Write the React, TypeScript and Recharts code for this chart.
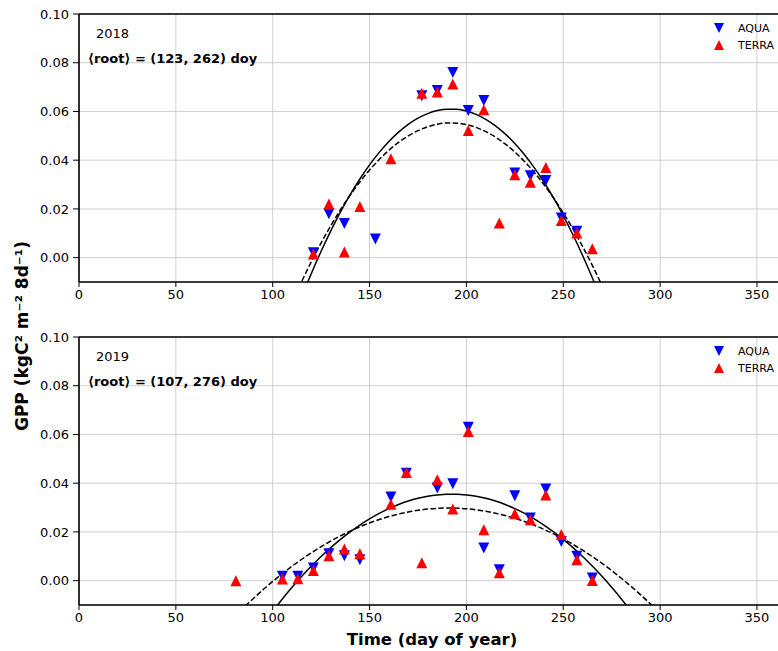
import React from 'react';
import { ComposedChart, Line, Scatter, XAxis, YAxis, CartesianGrid, ReferenceLine } from 'recharts';

// 8-day composites, day of year
const aqua2018Day = [121, 129, 137, 153, 177, 185, 193, 201, 209, 225, 233, 241, 249, 257];
const aqua2018Gpp = [0.002, 0.018, 0.014, 0.0077, 0.0664, 0.0686, 0.076, 0.0604, 0.0645, 0.0347, 0.0336, 0.0317, 0.0163, 0.0108];
const terra2018Day = [121, 129, 137, 145, 161, 177, 185, 193, 201, 209, 217, 225, 233, 241, 249, 257, 265];
const terra2018Gpp = [0.0015, 0.022, 0.0023, 0.021, 0.0406, 0.0675, 0.068, 0.0713, 0.0522, 0.0607, 0.0142, 0.034, 0.0309, 0.037, 0.0152, 0.0101, 0.0036];

const aqua2019Day = [105, 113, 121, 129, 137, 145, 161, 169, 185, 193, 201, 209, 217, 225, 233, 241, 249, 257, 265];
const aqua2019Gpp = [0.0018, 0.0018, 0.0052, 0.011, 0.0102, 0.0086, 0.0343, 0.0441, 0.038, 0.0398, 0.063, 0.0134, 0.0045, 0.0348, 0.0257, 0.0376, 0.0161, 0.01, 0.0011];
const terra2019Day = [81, 105, 113, 121, 129, 137, 145, 161, 169, 177, 185, 193, 201, 209, 217, 225, 233, 241, 249, 257, 265];
const terra2019Gpp = [0.0, 0.0007, 0.0008, 0.0042, 0.0102, 0.013, 0.011, 0.0314, 0.0444, 0.0073, 0.0414, 0.0294, 0.0612, 0.0209, 0.0032, 0.0275, 0.025, 0.0352, 0.0189, 0.0086, 0.0001];

// fitted curves
const solid2018Day = [115, 120, 125, 130, 135, 140, 145, 150, 155, 160, 165, 170, 175, 180, 185, 190, 195, 200, 205, 210, 215, 220, 225, 230, 235, 240, 245, 250, 255, 260, 265, 270];
const solid2018Gpp = [-0.0161, -0.0064, 0.00264, 0.011, 0.01877, 0.02585, 0.03228, 0.03807, 0.0432, 0.04769, 0.05152, 0.05471, 0.05724, 0.05913, 0.06036, 0.06095, 0.06088, 0.06017, 0.0588, 0.05679, 0.05412, 0.05081, 0.04684, 0.04223, 0.03696, 0.03105, 0.02448, 0.01727, 0.0094, 0.00089, -0.00828, -0.01809];
const dashed2018Day = [110, 115, 120, 125, 130, 135, 140, 145, 150, 155, 160, 165, 170, 175, 180, 185, 190, 195, 200, 205, 210, 215, 220, 225, 230, 235, 240, 245, 250, 255, 260, 265, 270, 275];
const dashed2018Gpp = [-0.01846, -0.00974, -0.00157, 0.00606, 0.01313, 0.01966, 0.02564, 0.03107, 0.03595, 0.04028, 0.04407, 0.0473, 0.04999, 0.05213, 0.05372, 0.05476, 0.05526, 0.0552, 0.0546, 0.05345, 0.05175, 0.0495, 0.0467, 0.04335, 0.03946, 0.03502, 0.03003, 0.02449, 0.0184, 0.01176, 0.00457, -0.00316, -0.01144, -0.02027];

const solid2019Day = [100, 105, 110, 115, 120, 125, 130, 135, 140, 145, 150, 155, 160, 165, 170, 175, 180, 185, 190, 195, 200, 205, 210, 215, 220, 225, 230, 235, 240, 245, 250, 255, 260, 265, 270, 275, 280, 285];
const solid2019Gpp = [-0.01256, -0.0075, -0.00273, 0.00176, 0.00598, 0.0099, 0.01356, 0.01693, 0.02002, 0.02283, 0.02535, 0.0276, 0.02957, 0.03125, 0.03266, 0.03378, 0.03462, 0.03518, 0.03546, 0.03546, 0.03518, 0.03462, 0.03378, 0.03266, 0.03125, 0.02957, 0.0276, 0.02535, 0.02283, 0.02002, 0.01693, 0.01356, 0.0099, 0.00598, 0.00176, -0.00273, -0.0075, -0.01256];
const dashed2019Day = [80, 85, 90, 95, 100, 105, 110, 115, 120, 125, 130, 135, 140, 145, 150, 155, 160, 165, 170, 175, 180, 185, 190, 195, 200, 205, 210, 215, 220, 225, 230, 235, 240, 245, 250, 255, 260, 265, 270, 275, 280, 285, 290, 295, 300];
const dashed2019Gpp = [-0.01503, -0.01108, -0.00732, -0.00373, -0.00033, 0.00289, 0.00593, 0.00878, 0.01146, 0.01395, 0.01626, 0.01839, 0.02034, 0.0221, 0.02368, 0.02508, 0.0263, 0.02734, 0.0282, 0.02887, 0.02936, 0.02967, 0.0298, 0.02974, 0.02951, 0.02909, 0.02849, 0.0277, 0.02674, 0.02559, 0.02427, 0.02276, 0.02106, 0.01919, 0.01713, 0.0149, 0.01248, 0.00988, 0.00709, 0.00413, 0.00098, -0.00235, -0.00586, -0.00955, -0.01343];

const X_TICKS = [0, 50, 100, 150, 200, 250, 300, 350];
const Y_TICKS = [0, 0.02, 0.04, 0.06, 0.08, 0.1];

const FONT = 'DejaVu Sans, Verdana, sans-serif';
const S = 5.5; // half marker size

const pts = (days: number[], vals: number[]) => days.map((d, i) => ({ day: d, gpp: vals[i] }));

const DownTri = (p: any) => {
  const { cx, cy } = p;
  return <polygon points={`${cx - S},${cy - S} ${cx + S},${cy - S} ${cx},${cy + S}`} fill="#0000ff" />;
};
const UpTri = (p: any) => {
  const { cx, cy } = p;
  return <polygon points={`${cx - S},${cy + S} ${cx + S},${cy + S} ${cx},${cy - S}`} fill="#ff0000" />;
};

type PanelProps = {
  top: number;
  aqua: { day: number; gpp: number }[];
  terra: { day: number; gpp: number }[];
  solid: { day: number; gpp: number }[];
  dashed: { day: number; gpp: number }[];
};

function Panel({ top, aqua, terra, solid, dashed }: PanelProps) {
  const tick = { fill: '#000', fontSize: 13, fontFamily: FONT };
  return (
    <div style={{ position: 'absolute', left: 0, top }}>
      <ComposedChart width={800} height={312} margin={{ top: 14, right: 14, bottom: 0, left: 0 }}>
        <CartesianGrid stroke="#c4c4c4" strokeWidth={0.8} />
        <XAxis
          type="number"
          dataKey="day"
          domain={[0, 365]}
          ticks={X_TICKS}
          allowDataOverflow
          height={30}
          tick={tick}
          tickSize={5}
          tickMargin={3}
          axisLine={{ stroke: '#000', strokeWidth: 1.6 }}
          tickLine={{ stroke: '#000' }}
        />
        <YAxis
          type="number"
          dataKey="gpp"
          domain={[-0.01, 0.1]}
          ticks={Y_TICKS}
          allowDataOverflow
          width={79}
          tick={tick}
          tickSize={6}
          tickMargin={4}
          tickFormatter={(v: number) => v.toFixed(2)}
          axisLine={{ stroke: '#000', strokeWidth: 1.6 }}
          tickLine={{ stroke: '#000' }}
        />
        <ReferenceLine y={0.1} stroke="#000" strokeWidth={1.6} />
        <Line data={solid} dataKey="gpp" type="monotone" stroke="#000" strokeWidth={1.5} dot={false} isAnimationActive={false} />
        <Line data={dashed} dataKey="gpp" type="monotone" stroke="#000" strokeWidth={1.5} strokeDasharray="5.5 2.4" dot={false} isAnimationActive={false} />
        <Scatter data={aqua} dataKey="gpp" fill="#0000ff" shape={DownTri} isAnimationActive={false} />
        <Scatter data={terra} dataKey="gpp" fill="#ff0000" shape={UpTri} isAnimationActive={false} />
      </ComposedChart>
    </div>
  );
}

function Notes({ dy, year, roots }: { dy: number; year: string; roots: string }) {
  return (
    <g transform={`translate(0, ${dy})`}>
      <text x={96} y={38} fontSize={13}>{year}</text>
      <text x={88} y={63} fontSize={13} fontWeight="bold">{roots}</text>
      <polygon points="714,23 724,23 719,33" fill="#0000ff" />
      <text x={738} y={32} fontSize={11}>AQUA</text>
      <polygon points="714,50 724,50 719,40" fill="#ff0000" />
      <text x={738} y={49} fontSize={11}>TERRA</text>
    </g>
  );
}

export default function App() {
  return (
    <div style={{ position: 'absolute', left: 0, top: 0, width: 778, height: 651, overflow: 'hidden', background: '#fff', fontFamily: FONT }}>
      <Panel
        top={0}
        aqua={pts(aqua2018Day, aqua2018Gpp)}
        terra={pts(terra2018Day, terra2018Gpp)}
        solid={pts(solid2018Day, solid2018Gpp)}
        dashed={pts(dashed2018Day, dashed2018Gpp)}
      />
      <Panel
        top={323}
        aqua={pts(aqua2019Day, aqua2019Gpp)}
        terra={pts(terra2019Day, terra2019Gpp)}
        solid={pts(solid2019Day, solid2019Gpp)}
        dashed={pts(dashed2019Day, dashed2019Gpp)}
      />
      <svg width={778} height={651} style={{ position: 'absolute', left: 0, top: 0, pointerEvents: 'none', fontFamily: FONT }}>
        <Notes dy={0} year="2018" roots="⟨root⟩ = (123, 262) doy" />
        <Notes dy={323} year="2019" roots="⟨root⟩ = (107, 276) doy" />
        <text
          x={22}
          y={336}
          fontSize={17}
          fontWeight="bold"
          textAnchor="middle"
          dominantBaseline="central"
          transform="rotate(-90, 22, 336)"
        >
          GPP (kgC² m⁻² 8d⁻¹)
        </text>
        <text x={432} y={645} fontSize={16.5} fontWeight="bold" textAnchor="middle">
          Time (day of year)
        </text>
      </svg>
    </div>
  );
}
